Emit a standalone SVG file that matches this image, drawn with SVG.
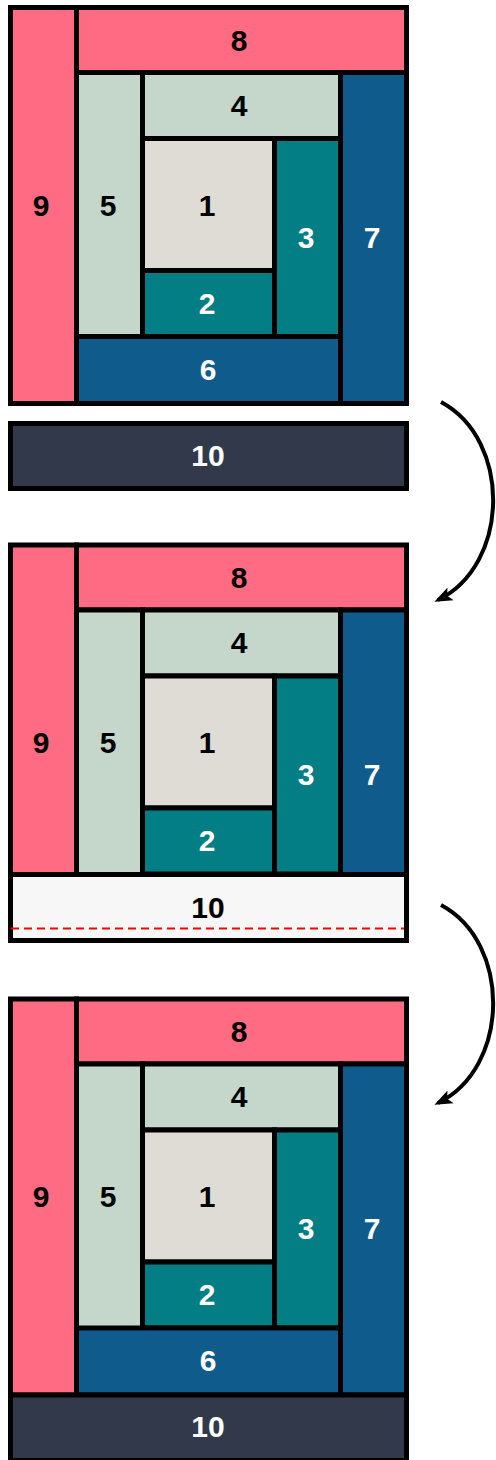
<svg xmlns="http://www.w3.org/2000/svg" width="496" height="1460" viewBox="0 0 496 1460">
<defs>
<style>
rect{stroke:#000;stroke-width:5}
.pk{fill:#FF6B83}.sg{fill:#C5D6CB}.gy{fill:#DFDCD5}.tl{fill:#037E84}.bl{fill:#0F5C8C}.dk{fill:#31394A}.lt{fill:#F7F7F7}
text{font-family:"Liberation Sans",Arial,sans-serif;font-weight:bold;font-size:30px;text-anchor:middle}
.b{fill:#000}.w{fill:#fff}
.arr{fill:none;stroke:#000;stroke-width:4}
</style>
<marker id="ah" markerUnits="userSpaceOnUse" markerWidth="20" markerHeight="16" refX="14" refY="8" orient="auto">
<path d="M0,1 L18,8 L0,15 L4,8 Z" fill="#000"/>
</marker>
</defs>

<g id="block1">
<g id="b1-9"><rect class="pk" x="10.5" y="7.5" width="66" height="396"/><text class="b" x="41" y="216">9</text></g>
<g id="b1-8"><rect class="pk" x="76.5" y="7.5" width="330" height="65"/><text class="b" x="239" y="51">8</text></g>
<g id="b1-5"><rect class="sg" x="76.5" y="72.5" width="66" height="265"/><text class="b" x="108" y="216">5</text></g>
<g id="b1-4"><rect class="sg" x="142.5" y="72.5" width="198" height="66"/><text class="b" x="239" y="116">4</text></g>
<g id="b1-1"><rect class="gy" x="142.5" y="138.5" width="132" height="132"/><text class="b" x="207" y="216">1</text></g>
<g id="b1-2"><rect class="tl" x="142.5" y="270.5" width="132" height="66"/><text class="w" x="207" y="314">2</text></g>
<g id="b1-3"><rect class="tl" x="274.5" y="138.5" width="66" height="198"/><text class="w" x="306" y="248">3</text></g>
<g id="b1-6"><rect class="bl" x="76.5" y="336.5" width="264" height="67"/><text class="w" x="208" y="380">6</text></g>
<g id="b1-7"><rect class="bl" x="340.5" y="72.5" width="66" height="331"/><text class="w" x="372" y="248">7</text></g>
<g id="b1-10"><rect class="dk" x="10.5" y="423.5" width="396" height="65"/><text class="w" x="208" y="466">10</text></g>
</g>

<g id="block2">
<g id="b2-9"><rect class="pk" x="10.5" y="545" width="66" height="395.5"/><text class="b" x="41" y="753">9</text></g>
<g id="b2-8"><rect class="pk" x="76.5" y="545" width="330" height="65"/><text class="b" x="239" y="588">8</text></g>
<g id="b2-5"><rect class="sg" x="76.5" y="610" width="66" height="265"/><text class="b" x="108" y="753">5</text></g>
<g id="b2-4"><rect class="sg" x="142.5" y="610" width="198" height="66"/><text class="b" x="239" y="653">4</text></g>
<g id="b2-1"><rect class="gy" x="142.5" y="676" width="132" height="132"/><text class="b" x="207" y="753">1</text></g>
<g id="b2-2"><rect class="tl" x="142.5" y="808" width="132" height="66"/><text class="w" x="207" y="851">2</text></g>
<g id="b2-3"><rect class="tl" x="274.5" y="676" width="66" height="198"/><text class="w" x="306" y="785">3</text></g>
<g id="b2-7"><rect class="bl" x="340.5" y="610" width="66" height="330.5"/><text class="w" x="372" y="785">7</text></g>
<g id="b2-10"><rect class="lt" x="10.5" y="874.5" width="396" height="66"/><text class="b" x="208" y="918">10</text>
<line x1="11" y1="928.5" x2="404" y2="928.5" stroke="#FF0000" stroke-width="2" stroke-dasharray="8 5"/></g>
</g>

<g id="block3">
<g id="b3-9"><rect class="pk" x="10.5" y="999" width="66" height="396"/><text class="b" x="41" y="1207">9</text></g>
<g id="b3-8"><rect class="pk" x="76.5" y="999" width="330" height="65"/><text class="b" x="239" y="1042">8</text></g>
<g id="b3-5"><rect class="sg" x="76.5" y="1064" width="66" height="265"/><text class="b" x="108" y="1207">5</text></g>
<g id="b3-4"><rect class="sg" x="142.5" y="1064" width="198" height="66"/><text class="b" x="239" y="1107">4</text></g>
<g id="b3-1"><rect class="gy" x="142.5" y="1130" width="132" height="132"/><text class="b" x="207" y="1207">1</text></g>
<g id="b3-2"><rect class="tl" x="142.5" y="1262" width="132" height="66"/><text class="w" x="207" y="1305">2</text></g>
<g id="b3-3"><rect class="tl" x="274.5" y="1130" width="66" height="198"/><text class="w" x="306" y="1239">3</text></g>
<g id="b3-6"><rect class="bl" x="76.5" y="1328" width="264" height="67"/><text class="w" x="208" y="1371">6</text></g>
<g id="b3-7"><rect class="bl" x="340.5" y="1064" width="66" height="331"/><text class="w" x="372" y="1239">7</text></g>
<g id="b3-10"><rect class="dk" x="10.5" y="1395" width="396" height="65.5"/><text class="w" x="208" y="1437">10</text></g>
</g>

<g id="connectors">
<path class="arr" d="M441 402 C512 440 510 565 438 600" marker-end="url(#ah)"/>
<path class="arr" d="M441 905 C512 943 510 1068 438 1103" marker-end="url(#ah)"/>
</g>
</svg>
